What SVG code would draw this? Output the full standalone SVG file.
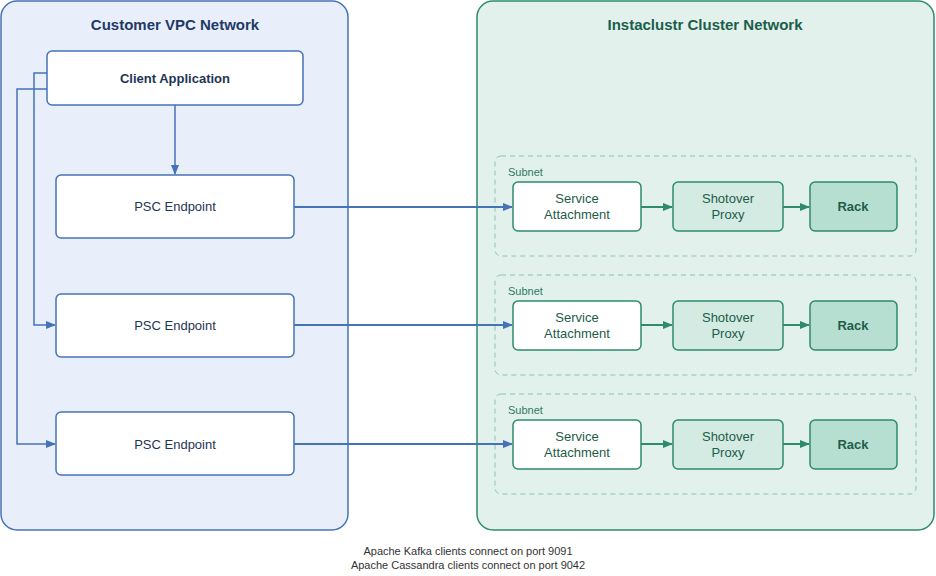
<svg xmlns="http://www.w3.org/2000/svg" width="936" height="576" viewBox="0 0 936 576">
<style>
text{font-family:"Liberation Sans",Arial,sans-serif;text-anchor:middle}
.vpc{fill:#e8effb;stroke:#4573b8;stroke-width:1.5}
.cl{fill:#e3f1ed;stroke:#2e8b6e;stroke-width:1.5}
.bn{fill:#fff;stroke:#4573b8;stroke-width:1.5}
.sub{fill:none;stroke:#8cc4b2;stroke-width:1;stroke-dasharray:5,4}
.sa{fill:#fff;stroke:#2e8b6e;stroke-width:1.5}
.sp{fill:#d3ebe3;stroke:#2e8b6e;stroke-width:1.5}
.rk{fill:#b6dfd1;stroke:#2e8b6e;stroke-width:1.5}
.t{font-size:13px;fill:#1f3555}
.g{font-size:13px;fill:#1e5c4a}
.b{font-weight:bold}
.bl{fill:none;stroke:#4573b8;stroke-width:2}
.gl{fill:none;stroke:#2e8b6e;stroke-width:2}
</style>
<defs>
<marker id="ab" markerWidth="10" markerHeight="8" refX="9" refY="4" orient="auto" markerUnits="userSpaceOnUse"><path d="M0,0L10,4L0,8z" fill="#4573b8"/></marker>
<marker id="ag" markerWidth="10" markerHeight="8" refX="9" refY="4" orient="auto" markerUnits="userSpaceOnUse"><path d="M0,0L10,4L0,8z" fill="#2e8b6e"/></marker>
</defs>
<rect width="936" height="576" fill="#fff"/>
<g id="vpc"><rect class="vpc" x="1" y="1" width="347" height="529" rx="16"/><text x="175" y="30" class="b" style="font-size:15px;fill:#1f3a66">Customer VPC Network</text></g>
<g id="cluster"><rect class="cl" x="477" y="1" width="457" height="529" rx="16"/><text x="705" y="30" class="b" style="font-size:15px;fill:#1b5e4a">Instaclustr Cluster Network</text></g>
<g id="client"><rect class="bn" x="47" y="51" width="256" height="54" rx="5"/><text x="175" y="83" class="t b">Client Application</text></g>
<g id="psc1"><rect class="bn" x="56" y="175" width="238" height="63" rx="5"/><text x="175" y="211" class="t">PSC Endpoint</text></g>
<g id="psc2"><rect class="bn" x="56" y="294" width="238" height="63" rx="5"/><text x="175" y="330" class="t">PSC Endpoint</text></g>
<g id="psc3"><rect class="bn" x="56" y="412" width="238" height="63" rx="5"/><text x="175" y="449" class="t">PSC Endpoint</text></g>
<g id="subnet1"><rect class="sub" x="495" y="156" width="421" height="100" rx="6"/><text x="508" y="176" style="font-size:11px;fill:#2e7a62;text-anchor:start">Subnet</text></g>
<g id="subnet2"><rect class="sub" x="495" y="275" width="421" height="100" rx="6"/><text x="508" y="295" style="font-size:11px;fill:#2e7a62;text-anchor:start">Subnet</text></g>
<g id="subnet3"><rect class="sub" x="495" y="394" width="421" height="100" rx="6"/><text x="508" y="414" style="font-size:11px;fill:#2e7a62;text-anchor:start">Subnet</text></g>
<g id="sa1"><rect class="sa" x="513" y="182" width="128" height="49" rx="5"/><text x="577" y="203" class="g">Service</text><text x="577" y="219" class="g">Attachment</text></g>
<g id="sp1"><rect class="sp" x="673" y="182" width="110" height="49" rx="5"/><text x="728" y="203" class="g">Shotover</text><text x="728" y="219" class="g">Proxy</text></g>
<g id="rk1"><rect class="rk" x="810" y="182" width="87" height="49" rx="5"/><text x="853" y="211" class="g b">Rack</text></g>
<g id="sa2"><rect class="sa" x="513" y="301" width="128" height="49" rx="5"/><text x="577" y="322" class="g">Service</text><text x="577" y="338" class="g">Attachment</text></g>
<g id="sp2"><rect class="sp" x="673" y="301" width="110" height="49" rx="5"/><text x="728" y="322" class="g">Shotover</text><text x="728" y="338" class="g">Proxy</text></g>
<g id="rk2"><rect class="rk" x="810" y="301" width="87" height="49" rx="5"/><text x="853" y="330" class="g b">Rack</text></g>
<g id="sa3"><rect class="sa" x="513" y="420" width="128" height="49" rx="5"/><text x="577" y="441" class="g">Service</text><text x="577" y="457" class="g">Attachment</text></g>
<g id="sp3"><rect class="sp" x="673" y="420" width="110" height="49" rx="5"/><text x="728" y="441" class="g">Shotover</text><text x="728" y="457" class="g">Proxy</text></g>
<g id="rk3"><rect class="rk" x="810" y="420" width="87" height="49" rx="5"/><text x="853" y="449" class="g b">Rack</text></g>
<g id="connectors">
<path class="bl" style="stroke-width:1.5" d="M175,105V174" marker-end="url(#ab)"/>
<path class="bl" style="stroke-width:1.5" d="M47,73H34V325H55" marker-end="url(#ab)"/>
<path class="bl" style="stroke-width:1.5" d="M47,89H17V444H55" marker-end="url(#ab)"/>
<path class="bl" d="M294,207H512" marker-end="url(#ab)"/>
<path class="bl" d="M294,325H512" marker-end="url(#ab)"/>
<path class="bl" d="M294,444H512" marker-end="url(#ab)"/>
<path class="gl" d="M641,207H672" marker-end="url(#ag)"/>
<path class="gl" d="M783,207H809" marker-end="url(#ag)"/>
<path class="gl" d="M641,325H672" marker-end="url(#ag)"/>
<path class="gl" d="M783,325H809" marker-end="url(#ag)"/>
<path class="gl" d="M641,444H672" marker-end="url(#ag)"/>
<path class="gl" d="M783,444H809" marker-end="url(#ag)"/>
</g>
<text x="468" y="555" style="font-size:11px;fill:#333">Apache Kafka clients connect on port 9091</text>
<text x="468" y="569" style="font-size:11px;fill:#333">Apache Cassandra clients connect on port 9042</text>
</svg>
